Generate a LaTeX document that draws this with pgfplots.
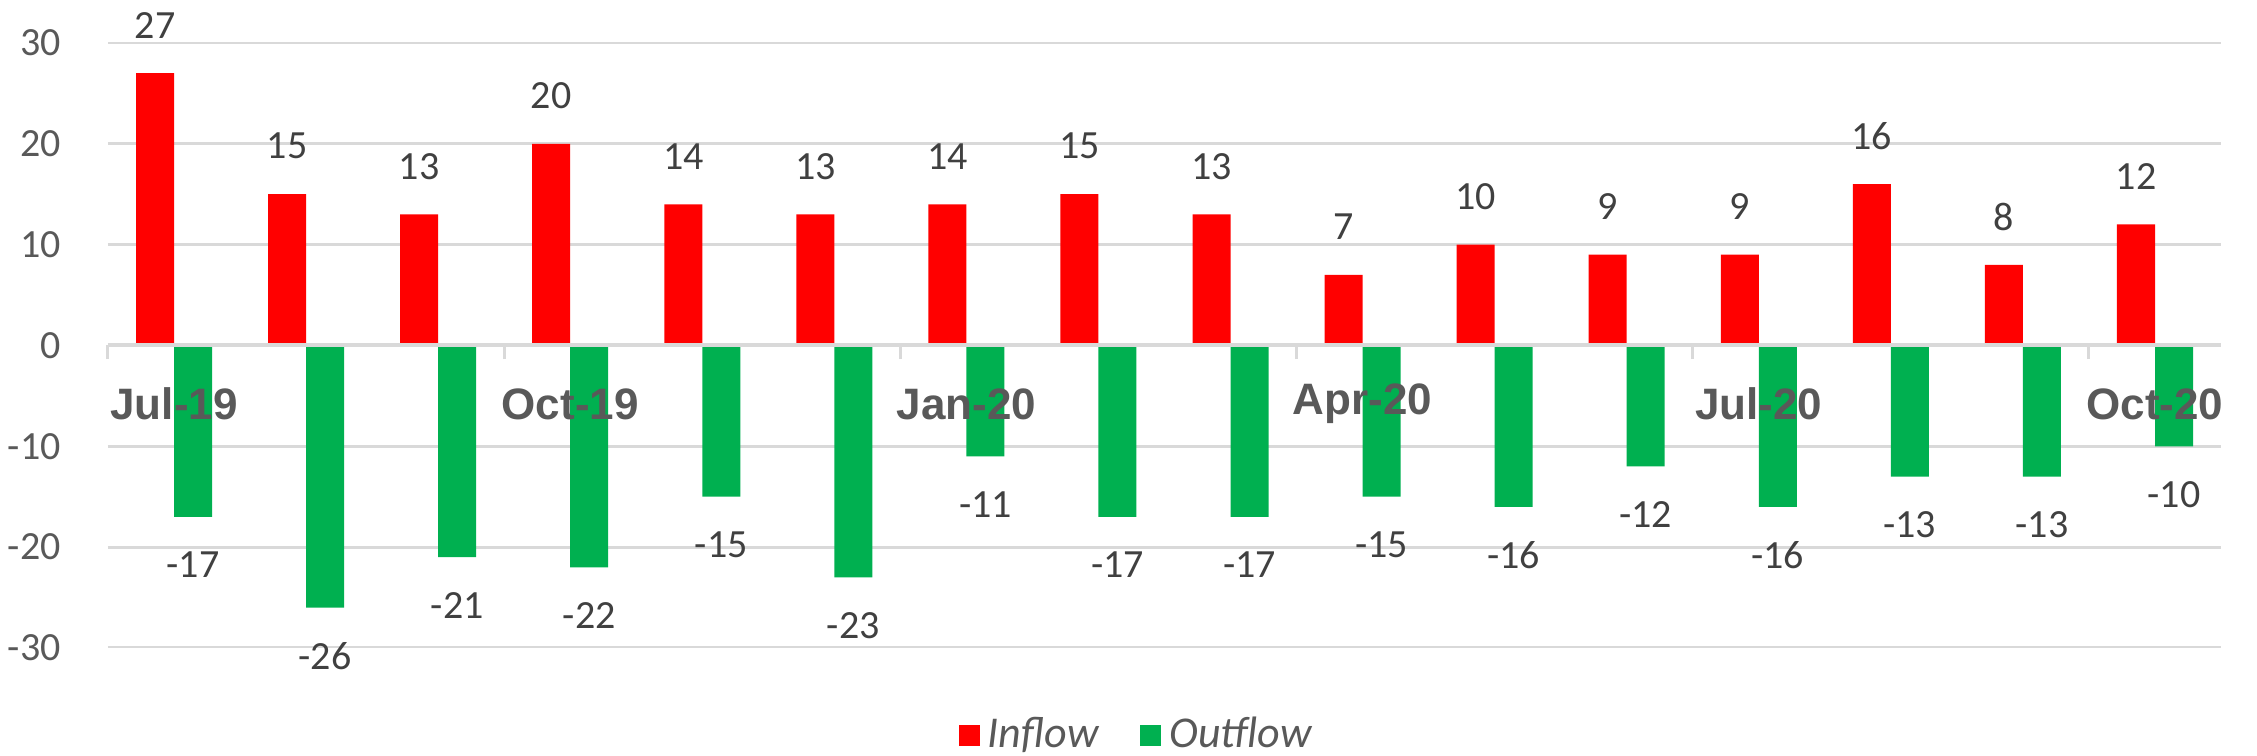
\documentclass[border=0pt]{standalone}
\usepackage{fontspec}
\setmainfont{Carlito}
\newfontfamily\arialfont{Liberation Sans}
\usepackage{pgfplots}
\usepackage{pgfplotstable}
\pgfplotsset{compat=1.18}
\definecolor{inred}{HTML}{FF0000}
\definecolor{outgreen}{HTML}{00B050}
\definecolor{gridgray}{HTML}{D9D9D9}
\definecolor{labelgray}{HTML}{595959}
\definecolor{valgray}{HTML}{404040}

% monthly flows, Jul-19 .. Oct-20
\pgfplotstableread{
idx in out
0 27 -17
1 15 -26
2 13 -21
3 20 -22
4 14 -15
5 13 -23
6 14 -11
7 15 -17
8 13 -17
9 7 -15
10 10 -16
11 9 -12
12 9 -16
13 16 -13
14 8 -13
15 12 -10
}\flows

\begin{document}
\begin{tikzpicture}
\begin{axis}[
  axis on top,
  at={(0pt,0pt)}, anchor=south west,
  scale only axis, width=528.25pt, height=151.25pt,
  xmin=-0.5, xmax=15.5, ymin=-30, ymax=30,
  ytick={-30,-20,...,30},
  axis x line=middle, axis y line=left,
  x axis line style={-, draw=gridgray, line width=1pt},
  y axis line style={draw=none},
  ytick style={draw=none},
  xtick={0,3,6,9,12,15},
  xticklabels={Jul-19,Oct-19,Jan-20,Apr-20,Jul-20,Oct-20},
  major x tick style={draw=none},
  minor xtick={-0.5,2.5,5.5,8.5,11.5,14.5},
  minor x tick style={draw=gridgray, line width=0.75pt},
  minor tick length=3.4pt,
  xtick align=outside,
  xticklabel style={font=\arialfont\bfseries\fontsize{11}{13}\selectfont, text=labelgray, anchor=center, yshift=-10.4pt},
  yticklabel style={font=\fontsize{10}{12}\selectfont, text=labelgray, anchor=east, inner sep=0pt, xshift=-9.5pt},
  /pgf/number format/assume math mode=true,
  ybar, bar width=9.5pt,
  legend style={at={(0.488,-0.145)}, anchor=center, draw=none, legend columns=2,
    font=\itshape\fontsize{11}{13}\selectfont, text=labelgray,
    /tikz/every even column/.append style={column sep=8.5pt}},
  legend image code/.code={\fill[#1] (0pt,-2.6pt) rectangle (5.25pt,2.6pt);},
]
% horizontal grid lines, drawn first so the bars cover them
\pgfplotsinvokeforeach{-30,-20,-10,10,20,30}{
  \draw[gridgray, line width=0.75pt] (axis cs:-0.5,#1) -- (axis cs:15.5,#1);
}
\addplot[fill=inred, draw=none, bar shift=-4.75pt,
  nodes near coords,
  every node near coord/.append style={font=\fontsize{10}{12}\selectfont, text=valgray, anchor=center, yshift=12pt}]
  table[x=idx, y=in] {\flows};
\addlegendentry{Inflow}
\addplot[fill=outgreen, draw=none, bar shift=4.75pt,
  nodes near coords,
  every node near coord/.append style={font=\fontsize{10}{12}\selectfont, text=valgray, anchor=center, yshift=-12pt}]
  table[x=idx, y=out] {\flows};
\addlegendentry{Outflow}
\end{axis}
\pgfresetboundingbox
\path[use as bounding box] (-27pt,-27pt) rectangle (537.25pt,162pt);
\end{tikzpicture}
\end{document}
